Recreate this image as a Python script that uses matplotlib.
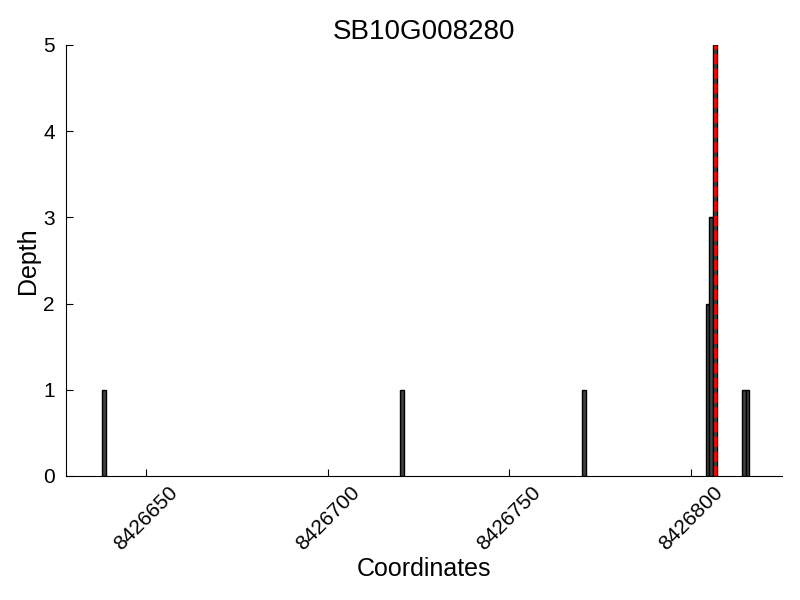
"""
Profundidad de lecturas por coordenada para SB10G008280.
Barras = depth en cada posicion; linea roja discontinua = posicion marcada.
"""

import matplotlib
matplotlib.use("Agg")
import matplotlib.pyplot as plt

plt.rcParams["font.family"] = ["Liberation Sans", "DejaVu Sans"]

# ─── Datos ───────────────────────────────────────────────────────────────────
GENE = "SB10G008280"
coords = [8426638, 8426720, 8426770, 8426804, 8426805, 8426806, 8426814, 8426815]
depths = [1, 1, 1, 2, 3, 5, 1, 1]
marker_pos = 8426806.5

xticks = [8426650, 8426700, 8426750, 8426800]
yticks = [0, 1, 2, 3, 4, 5]
xlim = (8426628, 8426825)
ylim = (0, 5)

# ─── Figura ──────────────────────────────────────────────────────────────────
fig = plt.figure(figsize=(8, 6), dpi=100)
ax = fig.add_axes([0.0825, 0.2067, 0.895, 0.7183])

ax.bar(coords, depths, width=1, align="edge", color="#404040",
       edgecolor="black", linewidth=1, zorder=2)
ax.axvline(marker_pos, color="red", linestyle="--", linewidth=2, zorder=3)

ax.set_xlim(*xlim)
ax.set_ylim(*ylim)
ax.set_xticks(xticks)
ax.set_xticklabels([str(t) for t in xticks], rotation=45, ha="center")
ax.set_yticks(yticks)

ax.spines["top"].set_visible(False)
ax.spines["right"].set_visible(False)
ax.tick_params(direction="in", length=5, width=0.8, labelsize=15,
               top=False, right=False)
ax.tick_params(axis="y", pad=8)
ax.tick_params(axis="x", pad=5)

ax.set_title(GENE, fontsize=20, pad=4)
ax.set_xlabel("Coordinates", fontsize=18, labelpad=2)
ax.set_ylabel("Depth", fontsize=18, labelpad=2)

plt.savefig("out.png", dpi=100)
